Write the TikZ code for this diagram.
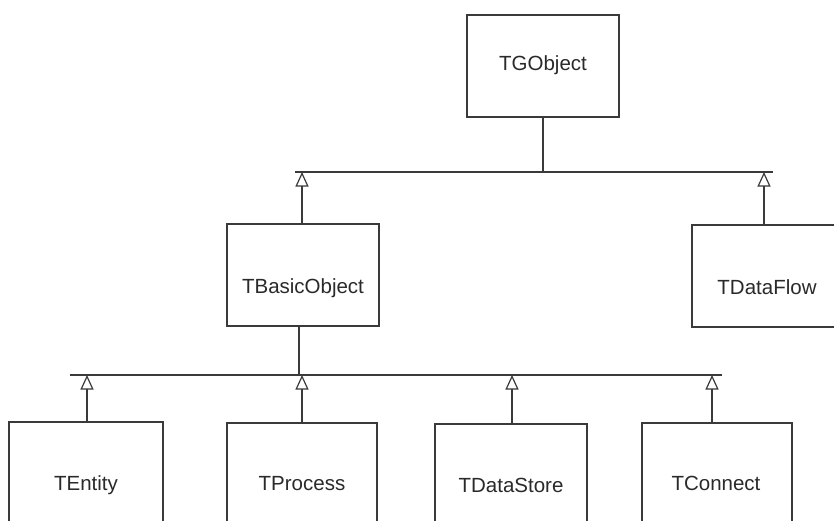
\documentclass[tikz,border=0pt]{standalone}
\usepackage{fontspec}
\setmainfont{Liberation Sans}
\usetikzlibrary{arrows.meta}
\definecolor{ink}{HTML}{3A3A3A}
\definecolor{txt}{HTML}{2A2A2A}
\begin{document}
\begin{tikzpicture}[x=1pt,y=-1pt,
  box/.style={draw=ink, line width=1.3pt, rectangle, inner sep=0pt},
  lbl/.style={text=txt, font=\fontsize{20.5}{24}\selectfont, inner sep=0pt, anchor=base},
  bar/.style={draw=ink, line width=1.3pt},
  inh/.style={draw=ink, line width=1.2pt, -{Triangle[open, length=14.5pt, width=13pt]}}]
\path[use as bounding box, clip] (0,0) rectangle (834,520);
\fill[white] (0,0) rectangle (834,520);
% boxes
\node[box, minimum width=152pt, minimum height=102pt] (tgo) at (543,66) {};
\node[box, minimum width=152pt, minimum height=102pt] (tbo) at (303,275) {};
\node[box, minimum width=152pt, minimum height=102pt] (tdf) at (768,276) {};
\node[box, minimum width=154pt, minimum height=130pt] (ten) at (86,487) {};
\node[box, minimum width=150pt, minimum height=130pt] (tpr) at (302,488) {};
\node[box, minimum width=152pt, minimum height=130pt] (tds) at (511,489) {};
\node[box, minimum width=150pt, minimum height=130pt] (tco) at (717,488) {};
% labels
\node[lbl] (tgoT) at (543,70) {TGObject};
\node[lbl] (tboT) at (303,293) {TBasicObject};
\node[lbl] (tdfT) at (767,294) {TDataFlow};
\node[lbl] (tenT) at (86,490) {TEntity};
\node[lbl] (tprT) at (302,490) {TProcess};
\node[lbl] (tdsT) at (511,492) {TDataStore};
\node[lbl] (tcoT) at (716,490) {TConnect};
% bars
\coordinate (t1) at (295,172);
\coordinate (t2) at (773,172);
\coordinate (u1) at (70,375);
\coordinate (u2) at (722,375);
\draw[bar] (t1) -- (t2);
\draw[bar] (u1) -- (u2);
% parent connectors
\draw[bar] (tgo.south) -- (tgo.south |- t1);
\draw[bar] ([xshift=-4pt]tbo.south) -- ([xshift=-4pt]tbo.south |- u1);
% inheritance arrows
\coordinate (a1) at (302,172);
\coordinate (a2) at (764,172);
\coordinate (b1) at (87,375);
\coordinate (b2) at (302,375);
\coordinate (b3) at (512,375);
\coordinate (b4) at (712,375);
\draw[inh] (a1 |- tbo.north) -- (a1);
\draw[inh] (a2 |- tdf.north) -- (a2);
\draw[inh] (b1 |- ten.north) -- (b1);
\draw[inh] (b2 |- tpr.north) -- (b2);
\draw[inh] (b3 |- tds.north) -- (b3);
\draw[inh] (b4 |- tco.north) -- (b4);
\end{tikzpicture}
\end{document}
